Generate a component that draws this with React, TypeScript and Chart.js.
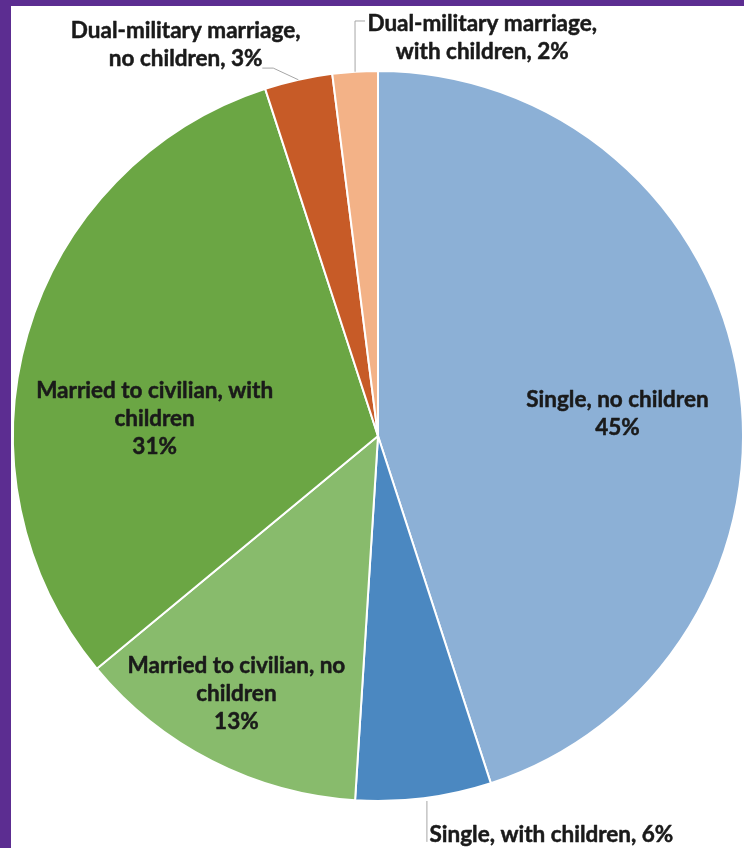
import React, { useEffect, useRef } from "react";
import { Chart, registerables } from "chart.js";

Chart.register(...registerables);

// ---- data ----
const categories = [
  "Single, no children",
  "Single, with children",
  "Married to civilian, no children",
  "Married to civilian, with children",
  "Dual-military marriage, no children",
  "Dual-military marriage, with children",
];
const values = [45, 6, 13, 31, 3, 2];
const colors = ["#8cb0d6", "#4b88c1", "#88bb6c", "#6ba644", "#c75b27", "#f3b287"];
// word index after which a label line breaks (0 = single line)
const lineBreakAfterWord = [0, 0, 4, 4, 2, 2];
// inside labels show value on its own line; outside labels append ", value"
const insideLabel = [true, false, true, true, false, false];

const PURPLE = "#5c2d91";
const FONT_SIZE = 22.5;
const LINE_H = 28;
const FONT = `bold ${FONT_SIZE}px Lato, "DejaVu Sans", sans-serif`;

function labelLines(i: number): string[] {
  const pct = `${values[i]}%`;
  const text = insideLabel[i] ? categories[i] : `${categories[i]}, ${pct}`;
  const words = text.split(" ");
  const k = lineBreakAfterWord[i];
  const lines = k > 0 ? [words.slice(0, k).join(" "), words.slice(k).join(" ")] : [text];
  if (insideLabel[i]) lines.push(pct);
  return lines;
}

// label block centre relative to pie centre, in units of the radius
type Pt = [number, number];
const labelPlacement: { fx: number; fy: number; leader?: (Pt | "arc")[] }[] = [
  { fx: 0.656, fy: -0.063 },
  { fx: 0.475, fy: 1.09, leader: [[0.134, 1.0], [0.134, 1.112]] },
  { fx: -0.388, fy: 0.705 },
  { fx: -0.612, fy: -0.049 },
  { fx: -0.527, fy: -1.074, leader: ["arc", [-0.287, -1.008], [-0.317, -1.008]] },
  { fx: 0.2855, fy: -1.094, leader: ["arc", [-0.063, -1.137], [-0.0355, -1.137]] },
];

const labelPlugin = {
  id: "pieLabels",
  afterDatasetsDraw(chart: any) {
    const ctx = chart.ctx as CanvasRenderingContext2D;
    const meta = chart.getDatasetMeta(0);
    ctx.save();
    meta.data.forEach((arc: any, i: number) => {
      const { x, y, startAngle, endAngle, outerRadius } = arc.getProps(
        ["x", "y", "startAngle", "endAngle", "outerRadius"],
        true
      );
      const r = outerRadius;
      const place = labelPlacement[i];
      if (place.leader) {
        const mid = (startAngle + endAngle) / 2;
        ctx.beginPath();
        ctx.strokeStyle = "#a6a6a6";
        ctx.lineWidth = 1;
        place.leader.forEach((p, k) => {
          let px: number, py: number;
          if (p === "arc") {
            px = x + Math.cos(mid) * r;
            py = y + Math.sin(mid) * r;
          } else {
            px = x + p[0] * r;
            py = y + p[1] * r;
          }
          if (k === 0) ctx.moveTo(px, py);
          else ctx.lineTo(px, py);
        });
        ctx.stroke();
      }
      const lines = labelLines(i);
      const cx = x + place.fx * r;
      const cy = y + place.fy * r;
      ctx.font = FONT;
      ctx.fillStyle = "#1a1a1a";
      ctx.strokeStyle = "#1a1a1a";
      ctx.lineWidth = 0.5;
      ctx.lineJoin = "round";
      ctx.textAlign = "center";
      ctx.textBaseline = "alphabetic";
      lines.forEach((ln, k) => {
        const by = cy + (k - (lines.length - 1) / 2) * LINE_H + 0.36 * FONT_SIZE;
        ctx.fillText(ln, cx, by);
        ctx.strokeText(ln, cx, by);
      });
    });
    ctx.restore();
  },
};

export default function App() {
  const ref = useRef<HTMLCanvasElement>(null);
  useEffect(() => {
    const chart = new Chart(ref.current!, {
      type: "pie",
      data: {
        labels: categories,
        datasets: [
          {
            data: values,
            backgroundColor: colors,
            borderColor: "#ffffff",
            borderWidth: 2,
          },
        ],
      },
      options: {
        responsive: false,
        animation: false,
        layout: { padding: { left: 12, right: 0, top: 70, bottom: 46 } },
        plugins: { legend: { display: false }, tooltip: { enabled: false } },
      },
      plugins: [labelPlugin],
    });
    return () => chart.destroy();
  }, []);
  return (
    <div
      style={{
        position: "fixed",
        left: 0,
        top: 0,
        width: 744,
        height: 848,
        background: PURPLE,
        overflow: "hidden",
      }}
    >
      <div style={{ position: "absolute", left: 11, top: 6, right: 0, bottom: 0, background: "#ffffff" }} />
      <canvas
        ref={ref}
        width={744}
        height={848}
        style={{ position: "absolute", left: 0, top: 0, width: 744, height: 848 }}
      />
    </div>
  );
}
